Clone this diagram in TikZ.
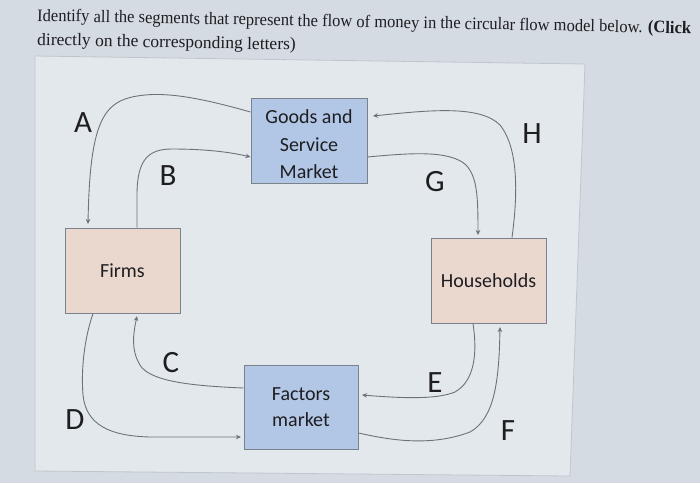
\documentclass[tikz,border=0pt]{standalone}
\usepackage{fontspec}
\setmainfont{Carlito}
\newfontfamily\titlefont{Liberation Serif}
\usetikzlibrary{arrows.meta,calc}
\definecolor{bgout}{HTML}{D5DBE2}
\definecolor{panel}{HTML}{E3E8ED}
\definecolor{panelline}{HTML}{BFC5CC}
\definecolor{bluebox}{HTML}{B2C6E6}
\definecolor{peachbox}{HTML}{EAD8CE}
\definecolor{boxline}{HTML}{7C828B}
\definecolor{flow}{HTML}{6D7278}
\definecolor{ink}{HTML}{1E1E22}
\tikzset{
  marketbox/.style={draw=boxline, line width=1pt, fill=bluebox, minimum width=116pt, minimum height=85pt, inner sep=0pt, align=center, text=ink, font=\fontsize{20}{27.5}\selectfont},
  agentbox/.style={draw=boxline, line width=1pt, fill=peachbox, minimum width=115pt, minimum height=85pt, inner sep=0pt, align=center, text=ink, font=\fontsize{20}{24}\selectfont},
  boxtext/.style={inner sep=0pt, align=center, text=ink, font=\fontsize{20}{27.5}\selectfont},
  flowline/.style={draw=flow, line width=0.9pt, -{Stealth[length=5pt,width=4.5pt]}},
  flowlabel/.style={text=ink, font=\fontsize{31}{31}\selectfont, inner sep=0pt},
  titletext/.style={text=ink, font=\titlefont\fontsize{17.5}{20}\selectfont, inner sep=0pt, anchor=base west, rotate=-1.1}
}
\begin{document}
\begin{tikzpicture}[x=1pt,y=-1pt]
\useasboundingbox (0,0) rectangle (700,483);
\fill[bgout] (0,0) rectangle (700,483);
\filldraw[fill=panel, draw=panelline, line width=0.8pt] (35,56) -- (585,64) -- (570,476) -- (35,471) -- cycle;

\node[titletext] (t1) at (37,21) {\resizebox{654pt}{\height}{Identify all the segments that represent the flow of money in the circular flow model below. \textbf{(Click}}};
\node[titletext] (t2) at (37,45) {directly on the corresponding letters)};

\node[marketbox] (goods) at (309,141) {};
\node[boxtext] (goodstext) at ($(goods.center)+(0,3.5)$) {Goods and\\Service\\Market};
\node[agentbox] (firms) at (122.5,270.5) {Firms};
\node[agentbox] (house) at (488.5,280.5) {Households};
\node[marketbox, minimum width=114pt, minimum height=84pt, font=\fontsize{20}{26}\selectfont] (factors) at (301,407) {Factors\\market};

\coordinate (aS) at (goods.west |- 0,112);
\coordinate (aE) at (88,224);
\coordinate (bS) at (firms.north -| 137,0);
\coordinate (bE) at (goods.west |- 0,157);
\coordinate (gS) at (goods.east |- 0,157);
\coordinate (gE) at (478,235);
\coordinate (hS) at (house.north -| 512,0);
\coordinate (hE) at (373,116);
\coordinate (cS) at (factors.west |- 0,388);
\coordinate (cE) at (137,316);
\coordinate (dS) at (firms.south -| 93,0);
\coordinate (dE) at (241,437);
\coordinate (eS) at (house.south -| 473,0);
\coordinate (eE) at (362,395);
\coordinate (fS) at (factors.east |- 0,433);
\coordinate (fE) at (500,327);

\draw[flowline] (aS) .. controls (215,102) and (175,92) .. (145,95) .. controls (105,99) and (90,115) .. (aE);
\draw[flowline] (bS) -- (137,195) .. controls (137,160) and (148,149) .. (172,149) .. controls (205,149) and (230,152) .. (bE);
\draw[flowline] (gS) .. controls (410,153) and (450,150) .. (466,165) .. controls (477,177) and (478,195) .. (gE);
\draw[flowline] (hS) .. controls (517,200) and (520,150) .. (500,125) .. controls (480,105) and (430,110) .. (hE);
\draw[flowline] (cS) .. controls (195,386) and (150,382) .. (140,365) .. controls (131,350) and (133,335) .. (cE);
\draw[flowline] (dS) .. controls (84,340) and (81,370) .. (83,395) .. controls (86,425) and (110,436) .. (150,437) -- (dE);
\draw[flowline] (eS) .. controls (477,350) and (476,380) .. (455,392) .. controls (435,400) and (400,398) .. (eE);
\draw[flowline] (fS) .. controls (390,440) and (430,447) .. (470,432) .. controls (495,418) and (499,380) .. (fE);

\node[flowlabel] (A) at (83,123) {A};
\node[flowlabel] (B) at (168,176) {B};
\node[flowlabel] (G) at (435,182) {G};
\node[flowlabel] (H) at (532,134) {H};
\node[flowlabel] (C) at (171,363) {C};
\node[flowlabel] (D) at (75,420) {D};
\node[flowlabel] (E) at (435,383) {E};
\node[flowlabel] (F) at (508,431) {F};
\end{tikzpicture}
\end{document}
